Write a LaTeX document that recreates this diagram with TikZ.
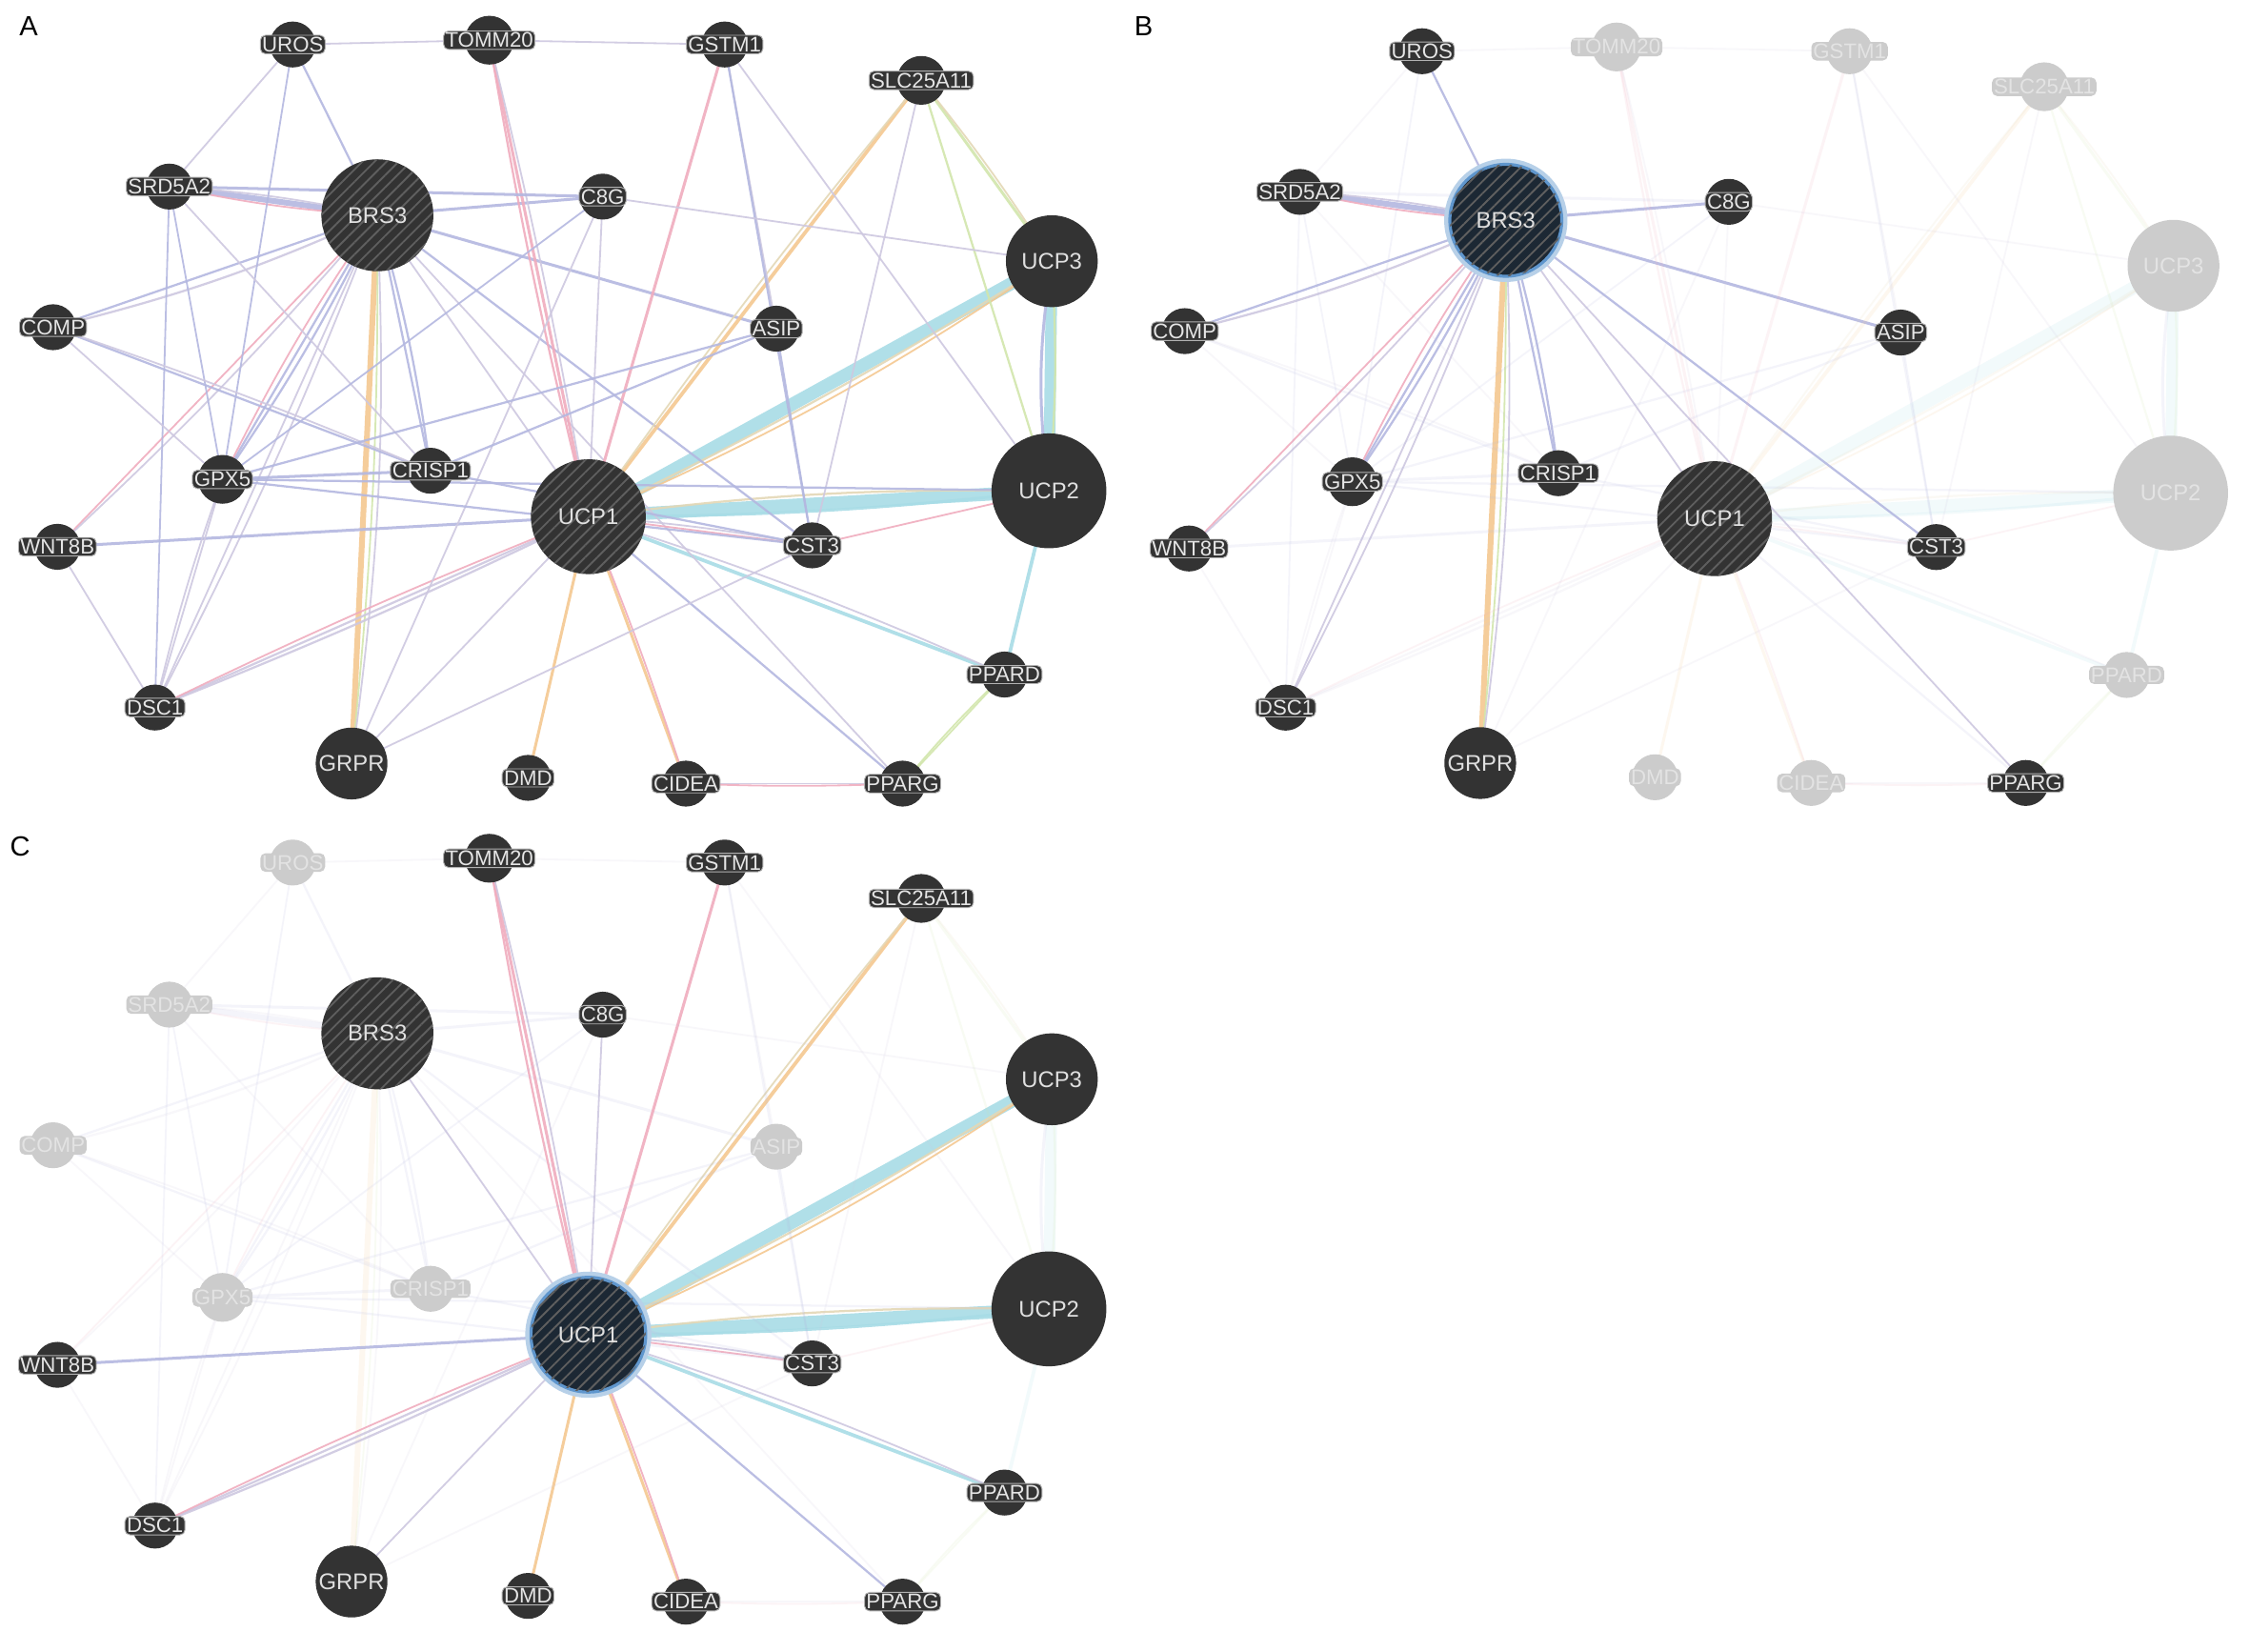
\documentclass[tikz,border=0pt]{standalone}
\usepackage{fontspec}
\setmainfont{Liberation Sans}
\usetikzlibrary{backgrounds,patterns.meta}

\definecolor{nodegrey}{RGB}{51,51,51}
\definecolor{fadegrey}{RGB}{204,204,204}
\definecolor{focusnavy}{RGB}{28,40,52}
\definecolor{glowblue}{RGB}{95,150,205}
\definecolor{stripegrey}{RGB}{95,95,95}
\definecolor{coexpr}{RGB}{206,200,224}
\definecolor{coloc}{RGB}{180,184,224}
\definecolor{physical}{RGB}{240,172,190}
\definecolor{predicted}{RGB}{245,200,145}
\definecolor{pathway}{RGB}{168,220,230}
\definecolor{genetic}{RGB}{210,230,172}
\definecolor{domains}{RGB}{228,216,182}

\newcommand\biglbl{\fontsize{9}{10}\selectfont}
\newcommand\smalllbl{\fontsize{8.4}{9}\selectfont}
\newcommand\panellbl{\fontsize{11}{12}\selectfont}

% gene/x/y/radius (figure pixels)
\def\genes{UROS/204/31/16,TOMM20/341/28/17,GSTM1/505/31/16,SLC25A11/642/56/17,%
SRD5A2/118/130/16,BRS3/263/150/39,C8G/420/137/16,UCP3/733/182/32,%
COMP/37/228/16,ASIP/541/229/16,GPX5/155/334/17,CRISP1/300/328/16,%
UCP1/410/360/40,UCP2/731/342/40,WNT8B/40/381/16,CST3/566/380/16,%
PPARD/700/470/16,DSC1/108/493/16,GRPR/245/532/25,DMD/368/542/16,%
CIDEA/478/546/16,PPARG/629/546/16}
\def\allgenes{UROS,TOMM20,GSTM1,SLC25A11,SRD5A2,BRS3,C8G,UCP3,COMP,ASIP,GPX5,%
CRISP1,UCP1,UCP2,WNT8B,CST3,PPARD,DSC1,GRPR,DMD,CIDEA,PPARG}
\def\querygenes{BRS3,UCP1}

% from/to/kind/width/bend
\def\links{UCP1/UCP3/pathway/9/0,UCP1/UCP2/pathway/9/0,UCP3/UCP2/pathway/8/0,%
UCP2/PPARD/pathway/2.5/0,UCP1/PPARD/pathway/2.5/0,UCP1/UCP2/pathway/2/-3,%
UCP1/UCP3/domains/1.5/-3,UCP1/UCP3/predicted/1.2/-5,UCP1/UCP2/domains/1.5/4,%
UCP3/UCP2/genetic/1.5/4,UCP3/UCP2/coloc/2/-8,%
BRS3/SRD5A2/coloc/4/0,BRS3/SRD5A2/physical/1.2/4,BRS3/SRD5A2/coexpr/1.2/-4,%
BRS3/GRPR/predicted/4/0,BRS3/GRPR/genetic/1.2/3,BRS3/GRPR/coexpr/1.2/5,%
BRS3/UROS/coloc/1.5/0,BRS3/C8G/coloc/2/0,BRS3/COMP/coloc/1.5/0,BRS3/COMP/coexpr/1.5/5,%
BRS3/ASIP/coloc/2/0,BRS3/GPX5/coloc/1.5/0,BRS3/GPX5/coloc/1.5/4,BRS3/GPX5/physical/1.2/-4,%
BRS3/WNT8B/physical/1.2/0,BRS3/WNT8B/coexpr/1.2/3,BRS3/DSC1/coexpr/1.2/0,BRS3/DSC1/coexpr/1.2/3,%
BRS3/CRISP1/coloc/1.5/0,BRS3/CRISP1/coloc/1.5/4,BRS3/UCP1/coexpr/1.2/0,%
BRS3/CST3/coloc/1.5/0,BRS3/PPARG/coexpr/1.2/0,%
UCP1/TOMM20/physical/2/0,UCP1/TOMM20/physical/1.5/2,UCP1/TOMM20/coexpr/1.2/-2,%
UCP1/GSTM1/physical/2/0,UCP1/SLC25A11/predicted/2.5/0,UCP1/SLC25A11/domains/1.2/2,%
UCP1/C8G/coexpr/1.2/0,UCP1/WNT8B/coloc/2/0,UCP1/CST3/physical/1.2/0,UCP1/CST3/coexpr/1.2/3,%
UCP1/PPARD/coexpr/1.2/3,UCP1/PPARG/coloc/1.5/0,UCP1/CIDEA/predicted/2/0,UCP1/CIDEA/physical/1.2/2,%
UCP1/DMD/predicted/2/0,UCP1/GRPR/coexpr/1.2/0,UCP1/DSC1/coexpr/1.5/0,UCP1/DSC1/coexpr/1.5/2,%
UCP1/DSC1/physical/1.2/-2,%
UROS/TOMM20/coexpr/1.2/0,TOMM20/GSTM1/coexpr/1.2/0,UROS/SRD5A2/coexpr/1.2/0,UROS/GPX5/coloc/1.2/0,%
SRD5A2/C8G/coloc/2/0,SRD5A2/GPX5/coloc/1.2/0,SRD5A2/DSC1/coloc/1.2/0,SRD5A2/CRISP1/coexpr/1.2/0,%
COMP/GPX5/coexpr/1.2/0,COMP/CRISP1/coloc/1.5/0,COMP/CRISP1/coexpr/1.2/2,%
GSTM1/ASIP/coexpr/1.2/0,GSTM1/CST3/coloc/1.5/0,GSTM1/UCP2/coexpr/1.2/0,%
SLC25A11/UCP3/genetic/2/0,SLC25A11/UCP3/domains/1.2/3,SLC25A11/UCP2/genetic/1.5/0,%
SLC25A11/CST3/coexpr/1.2/0,C8G/UCP3/coexpr/1.2/0,C8G/GRPR/coexpr/1.2/0,C8G/GPX5/coloc/1.2/0,%
ASIP/GPX5/coloc/1.5/0,ASIP/CRISP1/coloc/1.5/0,ASIP/CST3/coloc/1.2/0,UCP2/CST3/physical/1.2/0,%
CST3/GRPR/coexpr/1.2/0,PPARG/CIDEA/coexpr/1.2/0,PPARG/CIDEA/physical/1.2/2,%
PPARG/PPARD/genetic/1.2/0,PPARG/PPARD/genetic/1.2/3,DSC1/WNT8B/coexpr/1.2/0,%
DSC1/GPX5/coexpr/1.2/0,DSC1/GPX5/coexpr/1.2/3,GPX5/CRISP1/coloc/2/0,GPX5/UCP2/coloc/1.5/0,%
GPX5/CST3/coloc/1.5/0,CRISP1/CST3/coloc/1.5/0}

\makeatletter
% prefix, focus gene, genes kept dark, opacity of the other links
\newcommand\netpanel[4]{%
  \foreach \gn/\gx/\gy/\gr in \genes {
    \edef\tmp{\noexpand\in@{,\gn,}{,#3,}}\tmp
    \ifin@ \tikzset{look/.style={shown},looktag/.style={showntag}}%
    \else \tikzset{look/.style={faded},looktag/.style={fadedtag}}\fi
    \edef\tmp{\noexpand\in@{,\gn,}{,\querygenes,}}\tmp
    \ifin@ \tikzset{look/.append style={query}}\fi
    \edef\tmp{\noexpand\in@{,\gn,}{,#2,}}\tmp
    \ifin@ \tikzset{look/.append style={focus}}\fi
    \ifdim\gr pt>20pt
      \node[look, minimum size=\gr*0.4mm] (#1\gn) at (\gx,\gy) {\gn};
    \else
      \node[look, minimum size=\gr*0.4mm, label={[looktag]center:\gn}] (#1\gn) at (\gx,\gy) {};
    \fi
  }
  \begin{pgfonlayer}{background}
  \foreach \ea/\eb/\ec/\ew/\eo in \links {
    \edef\tmp{\noexpand\in@{,#2,}{,\ea,\eb,}}\tmp
    \ifin@ \def\op{0.9}\else\def\op{#4}\fi
    \draw[link, draw=\ec, line width=\ew*0.2mm, draw opacity=\op]
      (#1\ea.center) to[bend left=\eo] (#1\eb.center);
  }
  \end{pgfonlayer}
}
\makeatother

\begin{document}
\begin{tikzpicture}[x=0.2mm,y=-0.2mm,
  gene/.style={circle, inner sep=0pt, font=\biglbl},
  shown/.style={gene, fill=nodegrey, text=white!88!black},
  faded/.style={gene, fill=fadegrey, text=white!45!fadegrey},
  tag/.style={rounded corners=2pt, inner sep=0.7pt, font=\smalllbl},
  showntag/.style={tag, fill=nodegrey, draw=gray!60, line width=0.35pt, text=white!90!black},
  fadedtag/.style={tag, fill=fadegrey, text=white!45!fadegrey},
  query/.style={postaction={pattern={Lines[angle=45,distance=3.4pt,line width=0.7pt]},
    pattern color=stripegrey}},
  focus/.style={fill=focusnavy, draw=glowblue, line width=1.2pt,
    preaction={draw=glowblue!45, line width=4.5pt}},
  link/.style={line cap=round},
  panel/.style={font=\panellbl, inner sep=0pt}]
\useasboundingbox (0,0) rectangle (1568,1151);
\begin{pgfonlayer}{background}
\fill[white] (0,0) rectangle (1568,1151);
\end{pgfonlayer}

\node[panel] (labA) at (20,18) {A};
\node[panel] (labB) at (797,18) {B};
\node[panel] (labC) at (14,590) {C};

% A: whole network
\netpanel{a}{}{\allgenes}{0.9}

% B: links of BRS3
\begin{scope}[shift={(789,5)},x=0.198mm,y=-0.198mm]
\netpanel{b}{BRS3}{UROS,SRD5A2,BRS3,C8G,COMP,ASIP,GPX5,CRISP1,UCP1,WNT8B,CST3,DSC1,GRPR,PPARG}{0.14}
\end{scope}

% C: links of UCP1
\begin{scope}[shift={(0,570)}]
\netpanel{c}{UCP1}{TOMM20,GSTM1,SLC25A11,BRS3,C8G,UCP3,UCP1,UCP2,WNT8B,CST3,PPARD,DSC1,GRPR,DMD,CIDEA,PPARG}{0.14}
\end{scope}
\end{tikzpicture}
\end{document}
